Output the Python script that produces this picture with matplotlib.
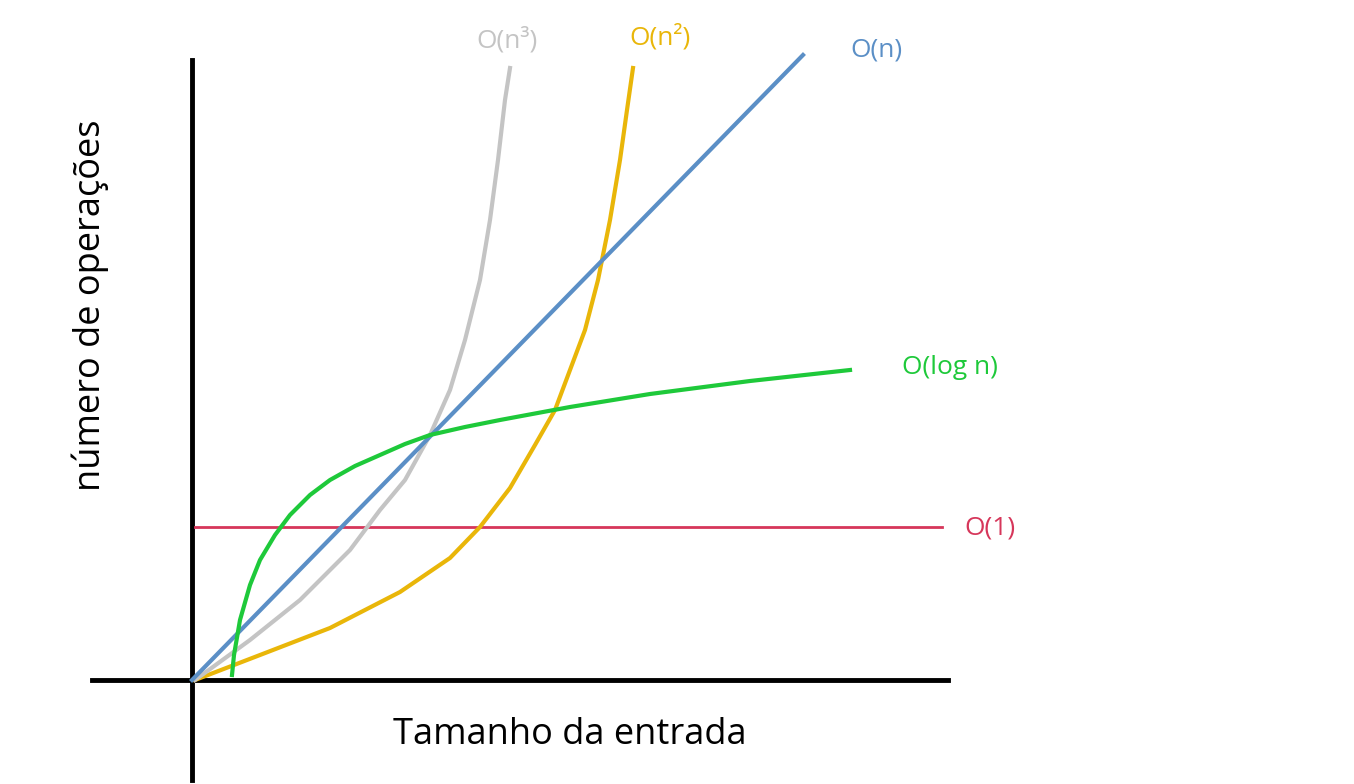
import matplotlib
matplotlib.use("Agg")
import matplotlib.pyplot as plt

# data in image-like coordinates (x to the right, y downward)
const_x = [195, 942]; const_y = [527, 527]
lin_x = [192, 803]; lin_y = [680, 55]
log_x = [232, 234, 240, 250, 260, 275, 290, 310, 330, 355, 380, 405, 430, 465, 500, 570, 650, 750, 850]
log_y = [675, 655, 620, 585, 560, 535, 515, 495, 480, 466, 455, 444, 435, 427, 420, 407, 394, 381, 370]
cub_x = [195, 250, 300, 350, 380, 405, 430, 450, 465, 480, 490, 498, 505, 510]
cub_y = [680, 640, 600, 550, 510, 480, 435, 390, 340, 280, 220, 160, 100, 68]
sq_x = [195, 260, 330, 400, 450, 480, 510, 535, 555, 570, 585, 598, 610, 620, 627, 633]
sq_y = [680, 655, 628, 592, 558, 527, 488, 445, 410, 370, 330, 280, 220, 160, 110, 68]

fig = plt.figure(figsize=(13.54, 7.84), dpi=100)
ax = fig.add_axes([0, 0, 1, 1])
ax.set_xlim(0, 1354); ax.set_ylim(784, 0); ax.axis("off")

ax.plot([192, 192], [60, 780], color="black", lw=3.5)
ax.plot([92, 948], [680, 680], color="black", lw=3.5)

ax.plot(const_x, const_y, color="#d6365a", lw=2)
ax.plot(sq_x, sq_y, color="#e9b609", lw=3)
ax.plot(cub_x, cub_y, color="#c4c4c4", lw=3)
ax.plot(lin_x, lin_y, color="#5b8fc6", lw=3)
ax.plot(log_x, log_y, color="#1ec93a", lw=3)

f = "Open Sans"
ax.text(507, 40, "O(n³)", color="#c4c4c4", fontsize=19, ha="center", va="center", family=f)
ax.text(660, 37, "O(n²)", color="#e9b609", fontsize=19, ha="center", va="center", family=f)
ax.text(876, 50, "O(n)", color="#5b8fc6", fontsize=19, ha="center", va="center", family=f)
ax.text(950, 367, "O(log n)", color="#1ec93a", fontsize=19, ha="center", va="center", family=f)
ax.text(990, 528, "O(1)", color="#d6365a", fontsize=19, ha="center", va="center", family=f)
ax.text(570, 735, "Tamanho da entrada", color="black", fontsize=26, ha="center", va="center", family=f)
ax.text(90, 305, "número de operações", color="black", fontsize=26, ha="center", va="center", rotation=90, family=f)

fig.savefig("out.png", dpi=100)
